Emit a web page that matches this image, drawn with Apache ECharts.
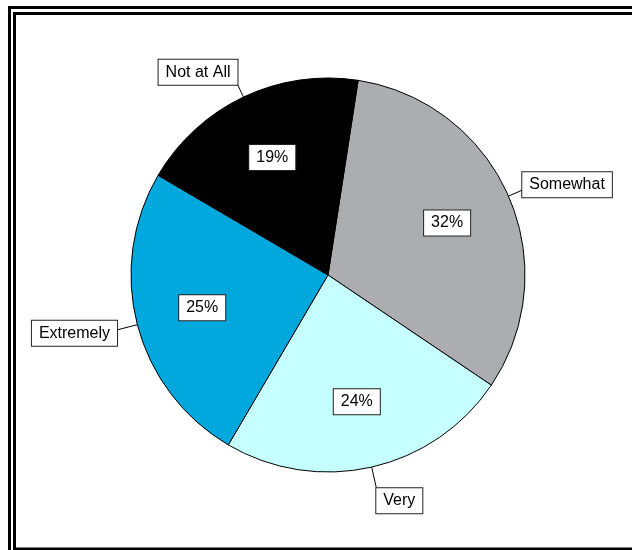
<!DOCTYPE html>
<html>
<head>
<meta charset="utf-8">
<script src="https://cdn.jsdelivr.net/npm/echarts@6/dist/echarts.min.js"></script>
<style>
  html, body { margin: 0; padding: 0; background: #ffffff; }
  #chart { width: 632px; height: 550px; }
</style>
</head>
<body>
<div id="chart"></div>
<script>
// ---- data ----
const categories = ['Somewhat', 'Very', 'Extremely', 'Not at All'];
const percents = [32, 24, 25, 19];
const sliceColors = ['#ABADB0', '#C6FFFF', '#00A8DE', '#000000'];
// leader line lengths (style only)
const leaderLengths = [15, 21, 21, 14];

const chart = echarts.init(document.getElementById('chart'), null, { renderer: 'canvas' });

const boxStyle = {
  backgroundColor: '#ffffff',
  borderColor: '#222222',
  borderWidth: 1,
  padding: [4, 7, 3, 7],
  color: '#000000',
  fontFamily: '"Liberation Sans", Arial, sans-serif',
  fontSize: 16,
  lineHeight: 18
};

const pieData = categories.map((name, i) => ({
  name: name,
  value: percents[i],
  itemStyle: { color: sliceColors[i] },
  labelLine: { length: leaderLengths[i] }
}));

const option = {
  animation: false,
  backgroundColor: '#ffffff',
  graphic: [
    { type: 'rect', shape: { x: 9.5, y: 7.5, width: 700, height: 700 },
      style: { fill: 'none', stroke: '#000', lineWidth: 3 }, silent: true },
    { type: 'rect', shape: { x: 14.5, y: 13.5, width: 700, height: 535.5 },
      style: { fill: 'none', stroke: '#000', lineWidth: 3 }, silent: true }
  ],
  series: [
    {
      type: 'pie',
      center: [328, 275],
      radius: 197,
      startAngle: 81.2,
      clockwise: true,
      avoidLabelOverlap: false,
      itemStyle: { borderColor: '#000000', borderWidth: 1 },
      emphasis: { disabled: true },
      label: Object.assign({ show: true, position: 'outside', formatter: '{b}' }, boxStyle),
      labelLine: {
        show: true, length: 16, length2: 0, smooth: false,
        lineStyle: { color: '#000000', width: 1 }
      },
      labelLayout: function (params) {
        const p = params.labelLinePoints;
        if (!p || p.length < 2) return {};
        const dx = p[1][0] - p[0][0], dy = p[1][1] - p[0][1];
        const len = Math.sqrt(dx * dx + dy * dy) || 1;
        return {
          dx: params.align === 'right' ? 5 : -5,
          dy: (dy / len) * params.labelRect.height / 2
        };
      },
      data: pieData
    },
    {
      type: 'pie',
      center: [328, 275],
      radius: [57, 197],
      startAngle: 81.2,
      clockwise: true,
      silent: true,
      itemStyle: { color: 'transparent', borderWidth: 0 },
      emphasis: { disabled: true },
      label: Object.assign({ show: true, position: 'inside', formatter: '{c}%' }, boxStyle),
      labelLine: { show: false },
      data: categories.map((name, i) => ({ name: name, value: percents[i] }))
    }
  ]
};

chart.setOption(option);
</script>
</body>
</html>
